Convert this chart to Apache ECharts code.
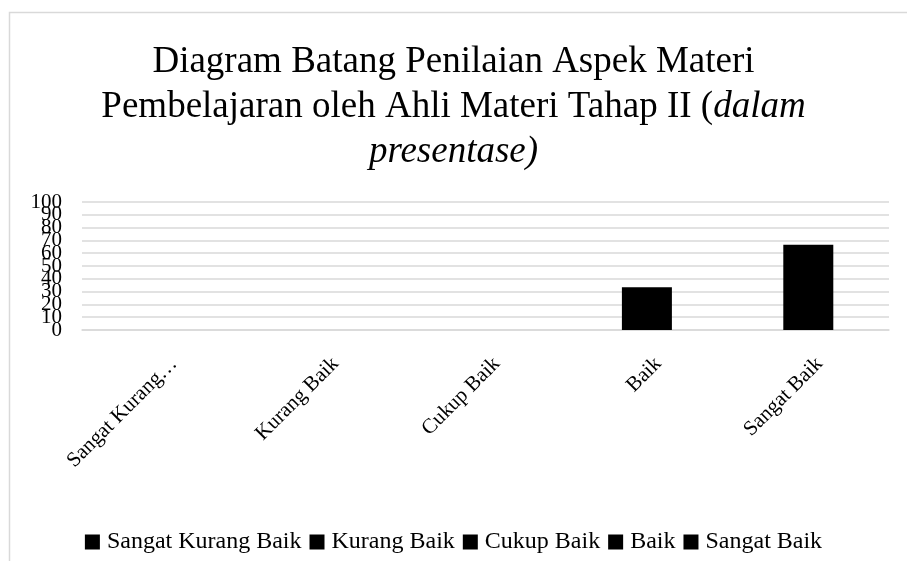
<!DOCTYPE html>
<html>
<head>
<meta charset="utf-8">
<script src="https://cdn.jsdelivr.net/npm/echarts@6/dist/echarts.min.js"></script>
<style>
  html, body { margin: 0; padding: 0; background: #fff; }
  #chart { width: 907px; height: 561px; }
</style>
</head>
<body>
<div id="chart"></div>
<script>
  // kategori penilaian dan nilai (dalam persen)
  const categories = ['Sangat Kurang Baik', 'Kurang Baik', 'Cukup Baik', 'Baik', 'Sangat Baik'];
  const values = [0, 0, 0, 33.33, 66.67];
  const yTicks = { min: 0, max: 100, interval: 10 };

  const serif = '"Liberation Serif", "DejaVu Serif", serif';
  const chart = echarts.init(document.getElementById('chart'));

  // satu seri per kategori supaya legenda menampilkan nama kategori
  const series = categories.map((name, i) => ({
    name: name,
    type: 'bar',
    stack: 'total',
    barWidth: 50,
    yAxisIndex: 0,
    itemStyle: { color: '#000' },
    data: categories.map((c, j) => (j === i ? values[i] : null))
  }));

  const titleStyle = { fontFamily: serif, fontSize: 37, fontWeight: 'normal', color: '#000', lineHeight: 45, align: 'center' };
  const yLabel = { margin: 20, fontFamily: serif, fontSize: 21, color: '#000' };

  const option = {
    animation: false,
    backgroundColor: '#fff',
    graphic: [{
      type: 'rect',
      shape: { x: 9.5, y: 12.5, width: 920, height: 580 },
      style: { fill: 'none', stroke: '#d9d9d9', lineWidth: 1.5 },
      silent: true
    }],
    title: {
      left: 'center',
      top: 35,
      text: '{n|Diagram Batang Penilaian Aspek Materi}\n{n|Pembelajaran oleh Ahli Materi Tahap II (}{i|dalam}\n{i|presentase)}',
      textStyle: {
        fontFamily: serif,
        fontWeight: 'normal',
        align: 'center',
        rich: {
          n: titleStyle,
          i: Object.assign({}, titleStyle, { fontStyle: 'italic' })
        }
      }
    },
    legend: {
      bottom: 2,
      left: 'center',
      icon: 'rect',
      itemWidth: 15,
      itemHeight: 15,
      itemGap: 8,
      textStyle: { fontFamily: serif, fontSize: 24, color: '#000', padding: [0, 0, 0, 2] },
      data: categories
    },
    grid: { left: 82, right: 18, top: 202, bottom: 231 },
    xAxis: {
      type: 'category',
      data: categories,
      axisLine: { lineStyle: { color: '#d9d9d9', width: 1.5 } },
      axisTick: { show: false },
      axisLabel: {
        interval: 0,
        rotate: 45,
        margin: 42,
        padding: [0, -16, 0, 0],
        fontFamily: serif,
        fontSize: 21,
        color: '#000',
        width: 155,
        overflow: 'truncate',
        ellipsis: '…'
      }
    },
    yAxis: [{
      // skala utama: label 10..90 (0 dan 100 disembunyikan otomatis karena bertumpuk)
      type: 'value',
      position: 'left',
      min: yTicks.min,
      max: yTicks.max,
      interval: yTicks.interval,
      axisLine: { show: false },
      axisTick: { show: false },
      axisLabel: yLabel,
      splitLine: { lineStyle: { color: '#d9d9d9', width: 1.5 } }
    }, {
      // sumbu kedua hanya untuk label 0 dan 100
      type: 'value',
      position: 'left',
      offset: 0,
      min: yTicks.min,
      max: yTicks.max,
      interval: yTicks.max - yTicks.min,
      axisLine: { show: false },
      axisTick: { show: false },
      axisLabel: Object.assign({}, yLabel, { showMinLabel: true, showMaxLabel: true }),
      splitLine: { show: false }
    }],
    series: series
  };

  chart.setOption(option);
</script>
</body>
</html>
